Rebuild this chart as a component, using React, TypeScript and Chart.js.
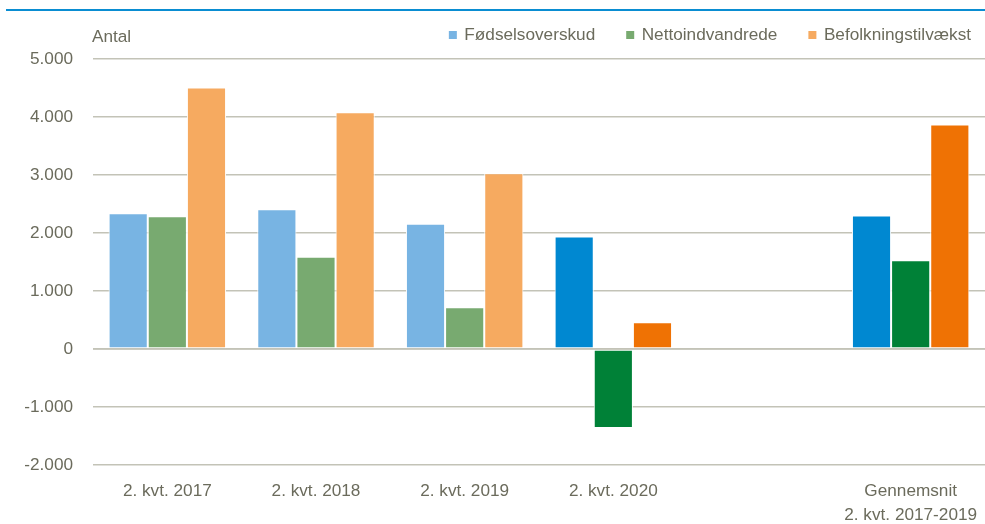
import React, { useEffect, useRef } from "react";
import { Chart, registerables } from "chart.js";

Chart.register(...registerables);

const categories: (string | string[])[] = [
  "2. kvt. 2017",
  "2. kvt. 2018",
  "2. kvt. 2019",
  "2. kvt. 2020",
  "",
  ["Gennemsnit", "2. kvt. 2017-2019"],
];
const seriesNames = ["Fødselsoverskud", "Nettoindvandrede", "Befolkningstilvækst"];
const fodselsoverskud = [2340, 2410, 2160, 1940, null, 2300];
const nettoindvandrede = [2290, 1590, 720, -1360, null, 1530];
const befolkningstilvaekst = [4510, 4080, 3030, 460, null, 3870];
const yTicks = [-2000, -1000, 0, 1000, 2000, 3000, 4000, 5000];
const yAxisLabel = "Antal";

const FONT = '"Liberation Sans", Arial, sans-serif';
const TEXT = "#6b6b5c";
const GRID = "#c3c3b7";
const lightColors = ["#78b4e3", "#78aa70", "#f6aa60"];
const darkColors = ["#0088d1", "#008137", "#ef7204"];
const darkFrom = 3;

function fmt(v: number): string {
  const s = Math.abs(v).toString().replace(/\B(?=(\d{3})+(?!\d))/g, ".");
  return (v < 0 ? "-" : "") + s;
}

function colorsFor(i: number): string[] {
  return categories.map((_, k) => (k >= darkFrom ? darkColors[i] : lightColors[i]));
}

const decorPlugin = {
  id: "decor",
  afterDatasetsDraw(chart: any) {
    const { ctx, chartArea, scales } = chart;
    const y0 = scales.y.getPixelForValue(0);
    ctx.save();
    ctx.strokeStyle = GRID;
    ctx.lineWidth = 1.5;
    ctx.beginPath();
    ctx.moveTo(chartArea.left, y0);
    ctx.lineTo(chartArea.right, y0);
    ctx.stroke();
    ctx.restore();
  },
  afterDraw(chart: any) {
    const { ctx, chartArea } = chart;
    ctx.save();
    // top rule
    ctx.fillStyle = "#0a8dd2";
    ctx.fillRect(6, 9, chart.width - 6, 2);
    // axis unit label
    ctx.font = `17.2px ${FONT}`;
    ctx.fillStyle = TEXT;
    ctx.textBaseline = "middle";
    ctx.textAlign = "left";
    ctx.fillText(yAxisLabel, chartArea.left - 1, 37);
    // legend (right aligned)
    const box = 8;
    const boxToText = 15.5;
    const gap = 31;
    const widths = seriesNames.map((n) => ctx.measureText(n).width);
    let total = 0;
    widths.forEach((w, i) => {
      total += boxToText + w + (i < widths.length - 1 ? gap : 0);
    });
    let x = 971 - total;
    const cy = 35;
    seriesNames.forEach((n, i) => {
      ctx.fillStyle = lightColors[i];
      ctx.fillRect(x, cy - box / 2, box, box);
      ctx.fillStyle = TEXT;
      ctx.fillText(n, x + boxToText, cy);
      x += boxToText + widths[i] + gap;
    });
    ctx.restore();
  },
};

export default function App() {
  const ref = useRef<HTMLCanvasElement | null>(null);
  useEffect(() => {
    if (!ref.current) return;
    const chart = new Chart(ref.current, {
      type: "bar",
      data: {
        labels: categories,
        datasets: [
          { label: seriesNames[0], data: fodselsoverskud, backgroundColor: colorsFor(0) },
          { label: seriesNames[1], data: nettoindvandrede, backgroundColor: colorsFor(1) },
          { label: seriesNames[2], data: befolkningstilvaekst, backgroundColor: colorsFor(2) },
        ].map((d) => ({
          ...d,
          borderColor: "#ffffff",
          borderWidth: 1,
          borderSkipped: false,
          barPercentage: 1,
          categoryPercentage: 0.79,
        })) as any,
      },
      options: {
        animation: false,
        responsive: false,
        maintainAspectRatio: false,
        layout: { padding: { top: 59, left: 0, right: 0, bottom: 0 } },
        plugins: {
          legend: { display: false },
          tooltip: { enabled: false },
          title: { display: false },
        },
        scales: {
          x: {
            grid: { display: false, drawTicks: false },
            border: { display: false },
            ticks: {
              color: TEXT,
              font: { family: FONT, size: 17.2, lineHeight: 1.4 },
              padding: 14,
              autoSkip: false,
              maxRotation: 0,
              minRotation: 0,
            },
            afterFit: (s: any) => {
              s.height = 59;
              s.paddingLeft = 0;
              s.paddingRight = 0;
            },
          },
          y: {
            min: -2000,
            max: 5000,
            grid: { color: GRID, lineWidth: 1.5, drawTicks: false },
            border: { display: false },
            afterBuildTicks: (s: any) => {
              s.ticks = yTicks.map((v) => ({ value: v }));
            },
            ticks: {
              color: TEXT,
              font: { family: FONT, size: 17.2 },
              padding: 20,
              callback: (v: any) => fmt(Number(v)),
            },
            afterFit: (s: any) => {
              s.width = 93;
            },
          },
        },
      },
      plugins: [decorPlugin],
    });
    return () => chart.destroy();
  }, []);
  return (
    <div style={{ position: "absolute", left: 0, top: 0, width: 985, height: 524, background: "#fff" }}>
      <canvas ref={ref} width={985} height={524} style={{ display: "block", width: 985, height: 524 }} />
    </div>
  );
}
